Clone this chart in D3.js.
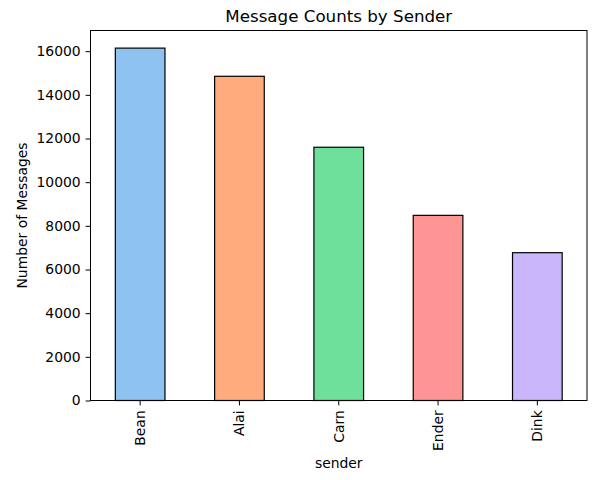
<!DOCTYPE html>
<html><head><meta charset="utf-8">
<script src="https://cdn.jsdelivr.net/npm/d3@7"></script>
<style>body{margin:0;background:#fff}svg{display:block}text{font-family:"DejaVu Sans",sans-serif;fill:#000}</style>
</head><body><svg id="c" width="601" height="480"></svg>
<script>
const categories = ["Bean","Alai","Carn","Ender","Dink"];
const values = [16140, 14850, 11600, 8480, 6770];
const colors = ["#8EC3F1","#FFAB7E","#6FE09B","#FF9494","#C9B6FB"];
const yTicks = [0,2000,4000,6000,8000,10000,12000,14000,16000];

const svg = d3.select("#c");
const m = {l:90.5, r:587, t:30.5, b:400.5};
const x = d3.scaleBand().domain(categories).range([m.l, m.r]).paddingInner(0.5).paddingOuter(0.25);
const y = d3.scaleLinear().domain([0, d3.max(values)*1.05]).range([m.b, m.t]);

svg.append("g").selectAll("rect").data(categories).join("rect")
  .attr("x", d=>x(d)).attr("width", x.bandwidth())
  .attr("y", (d,i)=>y(values[i])).attr("height", (d,i)=>m.b - y(values[i]))
  .attr("fill", (d,i)=>colors[i]).attr("stroke","#000").attr("stroke-width",1.2);

svg.append("rect").attr("x",m.l).attr("y",m.t).attr("width",m.r-m.l).attr("height",m.b-m.t)
  .attr("fill","none").attr("stroke","#000").attr("stroke-width",1);

const ya = svg.append("g").attr("transform",`translate(${m.l},0)`)
  .call(d3.axisLeft(y).tickValues(yTicks).tickFormat(d3.format("d")).tickSize(4.9).tickPadding(4.9));
ya.select(".domain").remove();
ya.selectAll("text").style("font-size","13.9px").style("font-family","DejaVu Sans");

const xa = svg.append("g").attr("transform",`translate(0,${m.b})`)
  .call(d3.axisBottom(x).tickSize(4.9).tickPadding(4.9));
xa.select(".domain").remove();
xa.selectAll("text").style("font-size","13.9px").style("font-family","DejaVu Sans")
  .attr("transform","rotate(-90)").attr("text-anchor","end").attr("dy","0.35em")
  .attr("x",-9.8).attr("y",0);

svg.append("text").attr("x",(m.l+m.r)/2).attr("y",22).attr("text-anchor","middle")
  .style("font-size","16.7px").text("Message Counts by Sender");
svg.append("text").attr("x",(m.l+m.r)/2).attr("y",468).attr("text-anchor","middle")
  .style("font-size","13.9px").text("sender");
svg.append("text").attr("transform",`translate(27,${(m.t+m.b)/2}) rotate(-90)`).attr("text-anchor","middle")
  .style("font-size","13.9px").text("Number of Messages");
</script></body></html>
